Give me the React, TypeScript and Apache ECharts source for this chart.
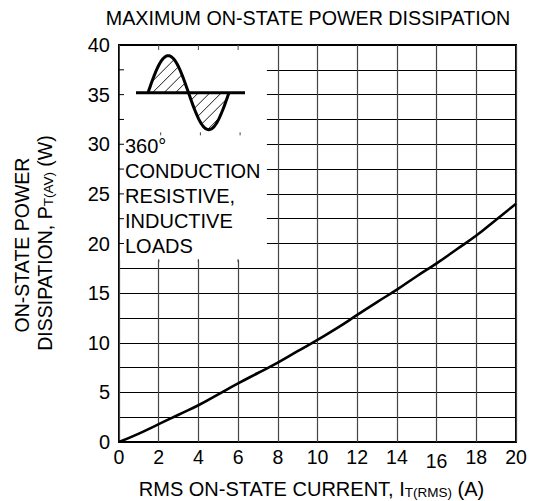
import React, { useEffect, useRef } from 'react';
import * as echarts from 'echarts';

// RMS on-state current (A)
const currentA = [0, 1, 2, 3, 4, 5, 6, 7, 8, 9, 10, 11, 12, 13, 14, 15, 16, 17, 18, 19, 20];
// Max on-state power dissipation (W)
const powerW = [0, 0.85, 1.8, 2.75, 3.7, 4.8, 5.9, 6.95, 8.0, 9.15, 10.3, 11.5, 12.8, 14.1, 15.35, 16.7, 18.0, 19.4, 20.8, 22.4, 24.0];

const xMin = 0;
const xMax = 20;
const xStep = 2;
const yMin = 0;
const yMax = 40;
const yStep = 5;

const titleText = 'MAXIMUM ON-STATE POWER DISSIPATION';
const insetLines = ['360°', 'CONDUCTION', 'RESISTIVE,', 'INDUCTIVE', 'LOADS'];
const insetLineValues = [30, 27.5, 25, 22.5, 20];
const insetBox = { x1: 7.45, y1: 18.3 };

const FONT = '"Liberation Sans", Arial, Helvetica, sans-serif';

export default function App() {
  const ref = useRef<HTMLDivElement>(null);

  useEffect(() => {
    if (!ref.current) return;
    const chart = echarts.init(ref.current, null, { renderer: 'svg' });
    const option: any = {
      animation: false,
      backgroundColor: '#fff',
      grid: {
        left: 119,
        right: 18,
        top: 45,
        bottom: 59,
        show: true,
        borderColor: '#000',
        borderWidth: 2,
        backgroundColor: 'transparent',
      },
      xAxis: {
        type: 'value',
        min: xMin,
        max: xMax,
        interval: xStep,
        axisLine: { show: false },
        axisTick: { show: false },
        axisLabel: {
          color: '#000',
          fontSize: 19.5,
          fontFamily: FONT,
          margin: 5,
          formatter: (v: number) => (v === 16 ? '{low|16}' : String(v)),
          rich: {
            low: { fontSize: 19.5, fontFamily: FONT, color: '#000', padding: [4, 0, 0, 0] },
          },
        },
        splitLine: { show: true, lineStyle: { color: '#444', width: 1.2 } },
      },
      yAxis: {
        type: 'value',
        min: yMin,
        max: yMax,
        interval: yStep,
        axisLine: { show: false },
        axisTick: { show: false },
        axisLabel: {
          color: '#000',
          fontSize: 20,
          fontFamily: FONT,
          margin: 9,
        },
        splitLine: { show: true, lineStyle: { color: '#000', width: 1 } },
        minorTick: { show: false, splitNumber: 2 },
        minorSplitLine: { show: true, lineStyle: { color: '#000', width: 1 } },
      },
      series: [
        {
          type: 'line',
          data: currentA.map((x, i) => [x, powerW[i]]),
          smooth: true,
          symbol: 'none',
          lineStyle: { color: '#000', width: 2.6 },
          z: 3,
        },
      ],
    };
    chart.setOption(option);

    const px = (x: number, y: number) => chart.convertToPixel({ gridIndex: 0 }, [x, y]) as number[];
    const [gx0, gy0] = px(xMin, yMax);
    const [bx1, by1] = px(insetBox.x1, insetBox.y1);

    const els: any[] = [];
    // white inset box
    els.push({
      type: 'rect',
      shape: { x: gx0 + 1, y: gy0 + 1, width: bx1 - gx0 - 1, height: by1 - gy0 - 1 },
      style: { fill: '#fff' },
      z: 10,
    });
    // left ticks inside the box
    for (let v = 20; v < yMax; v += 2.5) {
      const [, ty] = px(0, v);
      els.push({
        type: 'line',
        shape: { x1: gx0, y1: ty, x2: gx0 + 5, y2: ty },
        style: { stroke: '#000', lineWidth: 1 },
        z: 11,
      });
    }
    // top ticks inside the box
    [2, 4, 6].forEach((v) => {
      const [tx] = px(v, yMax);
      els.push({
        type: 'line',
        shape: { x1: tx, y1: gy0, x2: tx, y2: gy0 + 5 },
        style: { stroke: '#444', lineWidth: 1 },
        z: 11,
      });
      const [, ty2] = px(v, 31.2);
      els.push({
        type: 'line',
        shape: { x1: tx + 2, y1: ty2, x2: tx + 2, y2: ty2 + 3 },
        style: { stroke: '#444', lineWidth: 1 },
        z: 11,
      });
    });
    // bottom-of-box stubs of the vertical grid lines
    [2, 4, 6].forEach((v) => {
      const [tx] = px(v, yMax);
      els.push({
        type: 'line',
        shape: { x1: tx, y1: by1 - 1, x2: tx, y2: by1 + 2 },
        style: { stroke: '#444', lineWidth: 1.2 },
        z: 11,
      });
    });

    // sine wave
    const axisY = gy0 + 47.7;
    const sx0 = gx0 + 29;
    const sx2 = gx0 + 110;
    const W = (sx2 - sx0) / 2;
    const A = 37;
    const pts: number[][] = [];
    for (let i = 0; i <= 80; i++) {
      const x = sx0 + ((sx2 - sx0) * i) / 80;
      pts.push([x, axisY - A * Math.sin((Math.PI * (x - sx0)) / W)]);
    }
    // hatching
    const inside = (x: number, y: number) => {
      if (x > sx0 && x < sx0 + W) {
        const d = axisY - y;
        return d > 0 && d < A * Math.sin((Math.PI * (x - sx0)) / W);
      }
      if (x > sx0 + W && x < sx2) {
        const d = y - axisY;
        return d > 0 && d < A * Math.sin((Math.PI * (x - sx0 - W)) / W);
      }
      return false;
    };
    for (let c = sx0 - 30; c < sx2 + 40; c += 11.5) {
      let start: number[] | null = null;
      let last: number[] | null = null;
      for (let t = -60; t <= 60; t += 0.25) {
        const x = c + t;
        const y = axisY - t;
        const inn = inside(x, y);
        if (inn && !start) start = [x, y];
        if (inn) last = [x, y];
        if (!inn && start && last) {
          if (Math.hypot(last[0] - start[0], last[1] - start[1]) > 2) {
            els.push({
              type: 'line',
              shape: { x1: start[0], y1: start[1], x2: last[0], y2: last[1] },
              style: { stroke: '#000', lineWidth: 0.9 },
              z: 12,
            });
          }
          start = null;
          last = null;
        }
      }
    }
    els.push({
      type: 'polyline',
      shape: { points: pts },
      style: { stroke: '#000', lineWidth: 3, fill: null },
      z: 13,
    });
    els.push({
      type: 'line',
      shape: { x1: gx0 + 17, y1: axisY, x2: gx0 + 126, y2: axisY },
      style: { stroke: '#000', lineWidth: 3 },
      z: 13,
    });

    // inset texts
    insetLines.forEach((t, i) => {
      const [, ty] = px(0, insetLineValues[i]);
      els.push({
        type: 'text',
        x: gx0 + 6,
        y: ty + 2,
        style: {
          text: t,
          fontSize: 20,
          fontFamily: FONT,
          fill: '#000',
          align: 'left',
          verticalAlign: 'middle',
        },
        z: 14,
      });
    });

    // title
    els.push({
      type: 'text',
      x: 308,
      y: 18,
      style: {
        text: titleText,
        fontSize: 19.7,
        fontFamily: FONT,
        fill: '#000',
        align: 'center',
        verticalAlign: 'middle',
      },
      z: 14,
    });
    // x axis name
    els.push({
      type: 'text',
      x: 311.5,
      y: 489,
      style: {
        text: '{n|RMS ON-STATE CURRENT, I}{s|T(RMS)}{n| (A)}',
        rich: {
          n: { fontSize: 20, fontFamily: FONT, fill: '#000', verticalAlign: 'bottom' },
          s: { fontSize: 13.5, fontFamily: FONT, fill: '#000', verticalAlign: 'bottom' },
        },
        align: 'center',
        verticalAlign: 'middle',
      },
      z: 14,
    });
    // y axis name (two lines)
    els.push({
      type: 'text',
      x: 22,
      y: 245,
      rotation: Math.PI / 2,
      style: {
        text: 'ON-STATE POWER',
        fontSize: 19.5,
        fontFamily: FONT,
        fill: '#000',
        align: 'center',
        verticalAlign: 'middle',
      },
      z: 14,
    });
    els.push({
      type: 'text',
      x: 45,
      y: 243,
      rotation: Math.PI / 2,
      style: {
        text: '{n|DISSIPATION, P}{s|T(AV)}{n| (W)}',
        rich: {
          n: { fontSize: 19.5, fontFamily: FONT, fill: '#000', verticalAlign: 'bottom' },
          s: { fontSize: 13.5, fontFamily: FONT, fill: '#000', verticalAlign: 'bottom' },
        },
        align: 'center',
        verticalAlign: 'middle',
      },
      z: 14,
    });

    chart.setOption({ graphic: { elements: els } });

    return () => chart.dispose();
  }, []);

  return <div ref={ref} style={{ width: 534, height: 501, position: 'absolute', left: 0, top: 0 }} />;
}
